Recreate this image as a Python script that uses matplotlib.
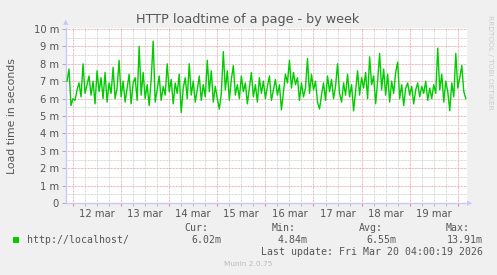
import numpy as np
import matplotlib
matplotlib.use("Agg")
import matplotlib.pyplot as plt
from matplotlib.ticker import MultipleLocator, FuncFormatter

# load time (milliseconds), one sample per hour, hour 0 = 12 mar 00:00
start_hour = -3
load_ms = [
    7.0, 7.7, 5.6,
    # 12 mar
    6.0, 5.9, 6.5, 6.9, 6.1, 8.0, 6.3, 6.8, 7.3, 6.2, 7.0, 5.7,
    7.6, 6.4, 7.2, 6.0, 7.5, 5.8, 6.9, 6.3, 7.8, 6.0, 6.6, 8.2,
    # 13 mar
    6.1, 7.0, 5.8, 6.6, 7.4, 5.7, 6.9, 7.2, 5.9, 9.0, 6.2, 7.5,
    6.0, 6.8, 5.6, 7.1, 9.3, 5.8, 6.5, 7.3, 5.9, 6.7, 6.2, 8.0,
    # 14 mar
    6.4, 7.1, 5.7, 6.9, 6.3, 7.4, 5.2, 6.6, 7.2, 6.0, 8.0, 6.2,
    7.0, 5.8, 6.5, 7.3, 5.9, 6.8, 6.1, 8.2, 6.4, 7.6, 5.8, 6.7,
    # 15 mar
    6.0, 5.4, 6.3, 8.7, 6.5, 7.6, 5.9, 7.1, 7.9, 6.2, 6.8, 6.0,
    7.3, 6.4, 6.9, 5.7, 6.6, 7.5, 6.1, 6.8, 5.8, 7.2, 6.3, 7.0,
    # 16 mar
    6.0, 6.7, 7.3, 5.9, 6.5, 7.1, 6.2, 6.8, 5.35, 6.4, 7.4, 6.9,
    8.2, 6.6, 7.5, 6.8, 7.2, 5.9, 6.9, 6.1, 6.6, 8.3, 6.3, 7.4,
    # 17 mar
    6.5, 7.0, 5.8, 5.4, 6.2, 6.9, 5.9, 7.3, 6.4, 7.1, 6.0, 6.7,
    8.0, 6.3, 5.8, 6.9, 6.2, 7.4, 6.1, 6.8, 5.3, 6.4, 7.6, 6.2,
    # 18 mar
    7.2, 6.6, 7.5, 6.0, 8.4, 6.8, 7.3, 5.7, 7.0, 8.6, 6.5, 7.7,
    6.2, 7.4, 5.8, 7.0, 6.3, 7.5, 8.1, 6.0, 6.8, 5.6, 6.6, 6.9,
    # 19 mar
    6.2, 6.7, 5.7, 6.5, 6.9, 6.1, 6.7, 6.3, 7.0, 5.9, 6.6, 6.0,
    6.8, 6.3, 8.9, 6.5, 7.4, 5.8, 7.0, 6.4, 5.3, 6.9, 6.1, 8.6,
    # 20 mar
    6.6, 7.2, 7.9, 6.4, 6.0,
]
day_labels = ["12 mar", "13 mar", "14 mar", "15 mar", "16 mar", "17 mar", "18 mar", "19 mar"]
series_name = "http://localhost/"
stat_names = ["Cur:", "Min:", "Avg:", "Max:"]
stat_values = ["6.02m", "4.84m", "6.55m", "13.91m"]
last_update = "Last update: Fri Mar 20 04:00:19 2026"

hours = start_hour + np.arange(len(load_ms))

W, H = 497, 275
BG = "#f0f0f0"
TXT = "#555555"
AXC = "#c8c8ff"
fig = plt.figure(figsize=(W / 100, H / 100), dpi=100, facecolor=BG)

x0, x1, ytop, ybot = 66, 467, 28, 203
ax = fig.add_axes([x0 / W, 1 - ybot / H, (x1 - x0) / W, (ybot - ytop) / H])
ax.set_facecolor("white")
ax.set_xlim(-3.5, 196.6)
ax.set_ylim(0, (ybot - ytop) / 17.4)

ax.xaxis.set_major_locator(MultipleLocator(24))
ax.xaxis.set_minor_locator(MultipleLocator(6))
ax.yaxis.set_major_locator(MultipleLocator(1))
ax.yaxis.set_minor_locator(MultipleLocator(0.5))

dots = (0, (0.72, 0.72))
ax.grid(which="minor", color="#cccccc", linestyle=dots, linewidth=0.72)
ax.grid(which="major", color="#e8a0a0", linestyle=dots, linewidth=0.72)
ax.set_axisbelow(True)

ax.plot(hours, load_ms, color="#00cc00", lw=1.0, zorder=3)

for s in ["top", "right"]:
    ax.spines[s].set_visible(False)
for s in ["left", "bottom"]:
    ax.spines[s].set_color(AXC)
    ax.spines[s].set_linewidth(1.0)

ax.yaxis.set_major_formatter(FuncFormatter(lambda v, p: "0" if v == 0 else f"{int(v)} m"))
ax.tick_params(axis="y", which="major", length=3, width=0.7, color="#aaaaaa",
               labelsize=7.2, labelcolor=TXT, pad=2)
ax.tick_params(axis="y", which="minor", length=0)
ax.tick_params(axis="x", which="major", length=2, width=0.7, color="#e08080", labelbottom=False)
ax.tick_params(axis="x", which="minor", length=2, width=0.7, color="#bbbbbb")

# day labels centered at noon
for i, lab in enumerate(day_labels):
    ax.text(i * 24 + 12, -0.35, lab, ha="center", va="top", fontsize=7.2, color=TXT,
            transform=ax.transData, clip_on=False)

# axis arrows
fig.text(x0 / W, 1 - 22 / H, "\u25b2", ha="center", va="center", fontsize=5, color=AXC)
fig.text(470 / W, 1 - ybot / H, "\u25b6", ha="center", va="center", fontsize=5, color=AXC)

fig.text(248 / W, 1 - 19 / H, "HTTP loadtime of a page - by week", ha="center", va="center",
         fontsize=9.2, color=TXT)
fig.text(12 / W, 1 - 116 / H, "Load time in seconds", rotation=90, ha="center", va="center",
         fontsize=7.8, color=TXT)
fig.text(490 / W, 1 - 15 / H, "RRDTOOL / TOBI OETIKER", rotation=270, ha="center", va="top",
         fontsize=5.3, color="#cccccc")

mono = "DejaVu Sans Mono"
fig.patches.append(plt.Rectangle((13 / W, 1 - 243 / H), 6 / W, 6 / H, transform=fig.transFigure,
                                 facecolor="#00cc00", edgecolor="none"))
fig.text(27 / W, 1 - 240 / H, series_name, ha="left", va="center", family=mono, fontsize=7.1, color=TXT)
label_right = [208, 296, 383, 470]
value_right = [221, 308, 396, 483]
for name, val, lr, vr in zip(stat_names, stat_values, label_right, value_right):
    fig.text(lr / W, 1 - 228 / H, name, ha="right", va="center", family=mono, fontsize=7.1, color=TXT)
    fig.text(vr / W, 1 - 240 / H, val, ha="right", va="center", family=mono, fontsize=7.1, color=TXT)
fig.text(483 / W, 1 - 252 / H, last_update, ha="right", va="center", family=mono, fontsize=7.1, color=TXT)
fig.text(248 / W, 1 - 264 / H, "Munin 2.0.75", ha="center", va="center", fontsize=5.3, color="#bbbbbb")

fig.savefig("out.png", dpi=100, facecolor=BG)
